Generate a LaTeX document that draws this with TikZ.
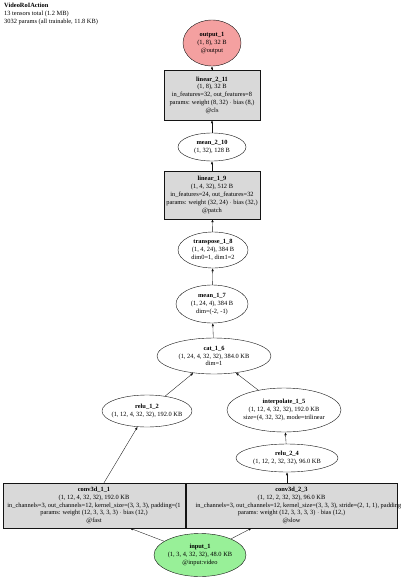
\documentclass[tikz,border=0pt]{standalone}
\usepackage{fontspec}
\setmainfont{Liberation Serif}
\usepackage{tikz}
\usetikzlibrary{arrows.meta,positioning,shapes.geometric}
\usepackage{xcolor}
\definecolor{opgray}{RGB}{217,217,217}
\definecolor{outred}{RGB}{244,160,160}
\definecolor{ingreen}{RGB}{152,240,152}
\definecolor{lineblack}{RGB}{20,20,20}

\begin{document}
\begin{tikzpicture}[x=1pt, y=-1pt, font=\fontsize{6.4}{7.8}\selectfont,
  opbox/.style={rectangle, draw=lineblack, fill=opgray, align=center, inner sep=0pt, line width=0.4pt},
  opnode/.style={ellipse, draw=lineblack, fill=white, align=center, inner xsep=-5pt, inner ysep=-2pt, line width=0.4pt},
  arr/.style={-{Latex[length=3pt,width=2.4pt]}, line width=0.35pt, draw=lineblack}]
\clip (0,0) rectangle (400,583);

\node[anchor=north west, align=left, inner sep=0pt] (title) at (4,3) {\textbf{VideoRoIAction}\\13 tensors total (1.2 MB)\\3032 params (all trainable, 11.8 KB)};

\node[opnode, fill=outred, minimum width=58, minimum height=46] (output1) at (212,43) {\textbf{output\_1}\\(1, 8), 32 B\\@output};
\node[opbox, minimum width=96, minimum height=50] (linear211) at (212,95) {\textbf{linear\_2\_11}\\(1, 8), 32 B\\in\_features=32, out\_features=8\\params: weight (8, 32) $\cdot$ bias (8,)\\@cls};
\node[opnode, minimum width=68, minimum height=28] (mean210) at (212,147) {\textbf{mean\_2\_10}\\(1, 32), 128 B};
\node[opbox, minimum width=96, minimum height=48] (linear19) at (212,195) {\textbf{linear\_1\_9}\\(1, 4, 32), 512 B\\in\_features=24, out\_features=32\\params: weight (32, 24) $\cdot$ bias (32,)\\@patch};
\node[opnode, minimum width=70, minimum height=36] (transpose18) at (213,250) {\textbf{transpose\_1\_8}\\(1, 4, 24), 384 B\\dim0=1, dim1=2};
\node[opnode, minimum width=72, minimum height=38] (mean17) at (212,304) {\textbf{mean\_1\_7}\\(1, 24, 4), 384 B\\dim=(-2, -1)};
\node[opnode, minimum width=114, minimum height=36] (cat16) at (214,356) {\textbf{cat\_1\_6}\\(1, 24, 4, 32, 32), 384.0 KB\\dim=1};
\node[opnode, minimum width=90, minimum height=32] (relu12) at (147,411) {\textbf{relu\_1\_2}\\(1, 12, 4, 32, 32), 192.0 KB};
\node[opnode, minimum width=114, minimum height=44] (interp15) at (284,410) {\textbf{interpolate\_1\_5}\\(1, 12, 4, 32, 32), 192.0 KB\\size=(4, 32, 32), mode=trilinear};
\node[opnode, minimum width=102, minimum height=28] (relu24) at (287,458) {\textbf{relu\_2\_4}\\(1, 12, 2, 32, 32), 96.0 KB};
\node[opbox, minimum width=182, minimum height=45] (conv11) at (94,505.5) {\textbf{conv3d\_1\_1}\\(1, 12, 4, 32, 32), 192.0 KB\\\makebox[0pt][c]{in\_channels=3, out\_channels=12, kernel\_size=(3, 3, 3), padding=(1}\\params: weight (12, 3, 3, 3, 3) $\cdot$ bias (12,)\\@fast};
\node[opbox, minimum width=211, minimum height=45] (conv23) at (291.5,505.5) {\textbf{conv3d\_2\_3}\\(1, 12, 2, 32, 32), 96.0 KB\\\makebox[0pt][c]{\hspace*{14pt}in\_channels=3, out\_channels=12, kernel\_size=(3, 3, 3), stride=(2, 1, 1), padding}\\params: weight (12, 3, 3, 3, 3) $\cdot$ bias (12,)\\@slow};
\node[opnode, fill=ingreen, minimum width=92, minimum height=43] (input1) at (200,555) {\textbf{input\_1}\\(1, 3, 4, 32, 32), 48.0 KB\\@input:video};

% edges, input to output
\draw[arr] (input1) -- ([xshift=36pt]conv11.south);
\draw[arr] (input1) -- ([xshift=-40pt]conv23.south);
\draw[arr] ([xshift=10pt]conv11.north) -- (relu12);
\draw[arr] (conv23.north -| relu24.south) -- (relu24.south);
\draw[arr] (relu24) -- (interp15);
\draw[arr] (relu12) -- (cat16);
\draw[arr] (interp15) -- (cat16);
\draw[arr] (cat16) -- (mean17);
\draw[arr] (mean17) -- (transpose18);
\draw[arr] (transpose18) -- (linear19);
\draw[arr] (linear19) -- (mean210);
\draw[arr] (mean210) -- (linear211);
\draw[arr] (linear211) -- (output1);
\end{tikzpicture}
\end{document}
